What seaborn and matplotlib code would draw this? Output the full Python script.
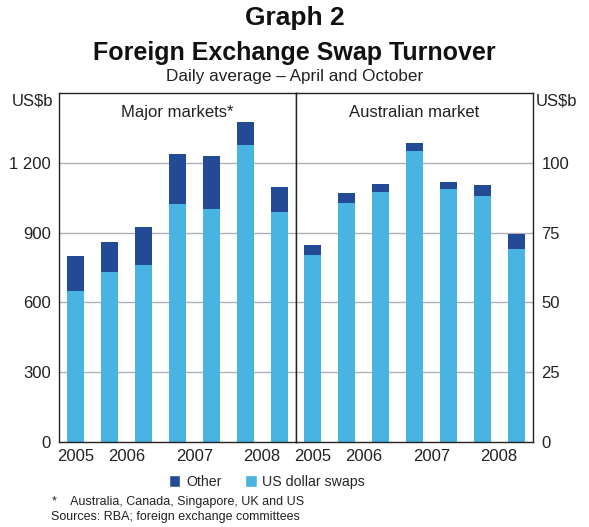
import matplotlib
matplotlib.use("Agg")
import matplotlib.pyplot as plt
import seaborn as sns
import pandas as pd
import numpy as np
from matplotlib.patches import Patch

# ---- data ----
periods = ["Oct 2005", "Apr 2006", "Oct 2006", "Apr 2007", "Oct 2007", "Apr 2008", "Oct 2008"]
year_labels = ["2005", "2006", "2007", "2008"]
major_us = [650, 731, 761, 1024, 1002, 1277, 989]
major_other = [150, 129, 164, 215, 228, 99, 108]
aus_us = [67.0, 85.7, 89.6, 104.3, 90.7, 88.2, 69.2]
aus_other = [3.6, 3.5, 2.9, 2.9, 2.5, 3.9, 5.4]
left_ticks = [0, 300, 600, 900, 1200]
left_ticklabels = ["0", "300", "600", "900", "1 200"]
right_ticks = [0, 25, 50, 75, 100]

DARK = "#234B95"
LIGHT = "#48B4E1"

sns.set_style("white")
plt.rcParams["font.family"] = ["Liberation Sans", "DejaVu Sans"]

fig = plt.figure(figsize=(5.89, 5.27), dpi=100)
W, H = 589, 527
def frac(x0, y0, x1, y1):
    return [x0 / W, 1 - y1 / H, (x1 - x0) / W, (y1 - y0) / H]

axL = fig.add_axes(frac(59, 93, 296, 442))
axR = fig.add_axes(frac(296, 93, 533, 442))

def panel(ax, us, other, ymax, ticks, ticklabels, side, title):
    df = pd.DataFrame({"period": periods, "us": us,
                       "total": np.array(us) + np.array(other)})
    sns.barplot(data=df, x="period", y="total", order=periods, color=DARK,
                width=0.5, saturation=1, ax=ax, linewidth=0)
    sns.barplot(data=df, x="period", y="us", order=periods, color=LIGHT,
                width=0.5, saturation=1, ax=ax, linewidth=0)
    ax.set_xlim(-0.5, 6.5)
    ax.set_ylim(0, ymax)
    ax.set_xlabel("")
    ax.set_ylabel("")
    for t in ticks[1:]:
        ax.axhline(t, color="#B0B0B8", lw=1.0, zorder=0)
    ax.set_axisbelow(True)
    ax.set_yticks(ticks)
    ax.set_yticklabels(ticklabels, fontsize=12, color="#222222")
    if side == "right":
        ax.yaxis.tick_right()
    ax.tick_params(axis="y", length=0, pad=6)
    ax.set_xticks([0, 1.5, 3.5, 5.5])
    ax.set_xticklabels(year_labels, fontsize=12, color="#222222")
    ax.tick_params(axis="x", which="major", length=0, pad=5)
    ax.set_xticks([0.5, 2.5, 4.5], minor=True)
    ax.tick_params(axis="x", which="minor", direction="in", length=7,
                   width=1, color="#333333")
    for s in ax.spines.values():
        s.set_visible(True)
        s.set_color("#222222")
        s.set_linewidth(1.0)
    ax.text(0.5, 0.965, title, transform=ax.transAxes, ha="center", va="top",
            fontsize=12, color="#222222")

panel(axL, major_us, major_other, 1500, left_ticks, left_ticklabels, "left", "Major markets*")
panel(axR, aus_us, aus_other, 125, right_ticks, [str(t) for t in right_ticks], "right", "Australian market")

fig.text(12 / W, 1 - 101 / H, "US$b", fontsize=12, ha="left", va="center", color="#222222")
fig.text(536 / W, 1 - 101 / H, "US$b", fontsize=12, ha="left", va="center", color="#222222")

fig.text(0.5, 1 - 18 / H, "Graph 2", fontsize=19, fontweight="bold", ha="center", va="center", color="#111111")
fig.text(0.5, 1 - 53 / H, "Foreign Exchange Swap Turnover", fontsize=18, fontweight="bold",
         ha="center", va="center", color="#111111")
fig.text(0.5, 1 - 76 / H, "Daily average \u2013 April and October", fontsize=12.3,
         ha="center", va="center", color="#222222")

handles = [Patch(facecolor=DARK, label="Other"), Patch(facecolor=LIGHT, label="US dollar swaps")]
fig.legend(handles=handles, loc="center", bbox_to_anchor=(267 / W, 1 - 482 / H), ncol=2,
           frameon=False, fontsize=10.2, handlelength=0.8, handleheight=0.95,
           handletextpad=0.4, columnspacing=1.7)

fig.text(52 / W, 1 - 502 / H, "*    Australia, Canada, Singapore, UK and US", fontsize=9,
         ha="left", va="center", color="#222222")
fig.text(51 / W, 1 - 517 / H, "Sources: RBA; foreign exchange committees", fontsize=9,
         ha="left", va="center", color="#222222")

fig.savefig("out.png", dpi=100, facecolor="white")
